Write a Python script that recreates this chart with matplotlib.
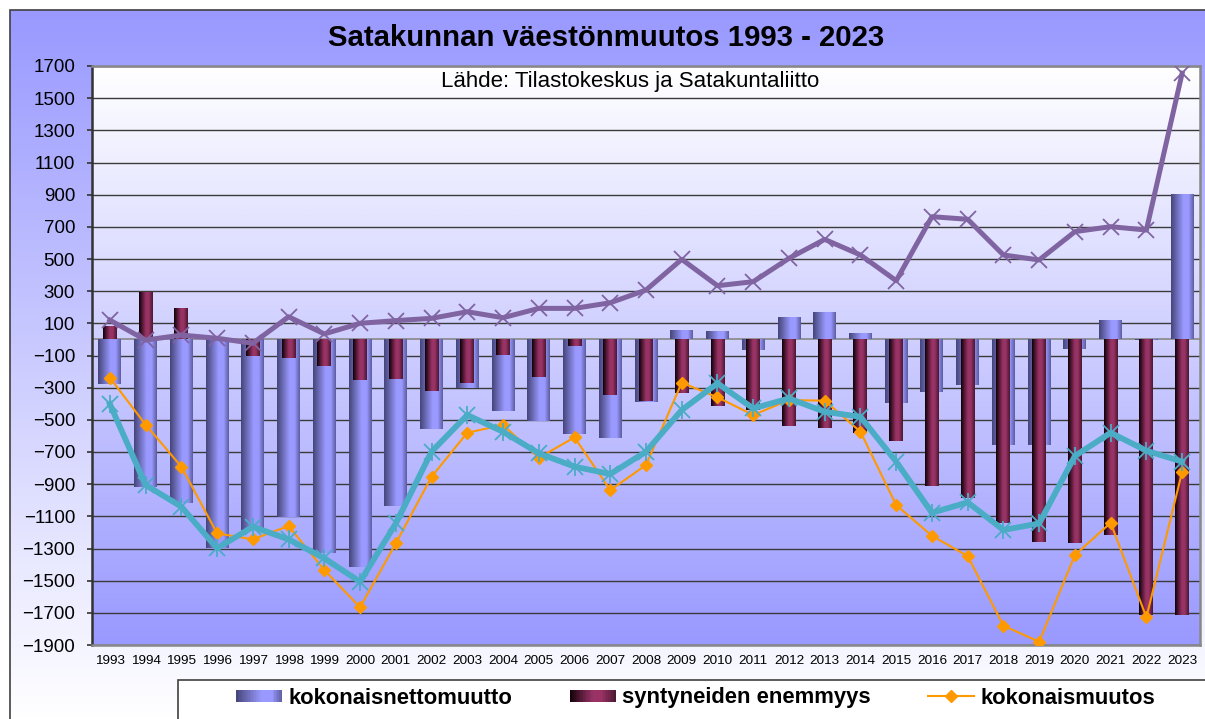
import numpy as np
import matplotlib
matplotlib.use("Agg")
import matplotlib.pyplot as plt
from matplotlib.colors import LinearSegmentedColormap
from matplotlib.patches import Rectangle
from matplotlib.lines import Line2D
from matplotlib.legend_handler import HandlerBase

plt.rcParams['font.family'] = ['Liberation Sans', 'DejaVu Sans']

years = [str(y) for y in range(1993, 2024)]

# kokonaisnettomuutto (blue bars)
netto = [-280, -915, -1020, -1295, -1185, -1105, -1325, -1415, -1035, -560,
         -300, -445, -510, -590, -610, -390, 58, 52, -65, 137,
         170, 38, -395, -325, -285, -655, -655, -60, 120, -5, 905]
# syntyneiden enemmyys (maroon bars)
synt = [85, 297, 193, 15, -105, -115, -163, -252, -246, -321,
        -273, -97, -232, -39, -346, -383, -331, -414, -436, -537,
        -549, -584, -630, -910, -988, -1144, -1258, -1268, -1216, -1714, -1714]
# kokonaismuutos (orange line)
kokonais = [-238, -530, -791, -1206, -1243, -1160, -1434, -1666, -1268, -854,
            -580, -532, -736, -609, -937, -781, -269, -360, -470, -377,
            -381, -574, -1030, -1221, -1347, -1780, -1880, -1341, -1140, -1728, -823]
# teal line (legend entry cut off in the original)
teal = [-402, -905, -1040, -1299, -1165, -1243, -1361, -1507, -1144, -698,
        -470, -574, -708, -791, -837, -698, -439, -273, -429, -367,
        -450, -481, -760, -1078, -1013, -1185, -1144, -725, -580, -692, -760]
# purple line (legend entry cut off in the original)
purple = [120, -4, 27, 7, -24, 141, 34, 100, 117, 131,
          172, 135, 193, 193, 228, 307, 498, 334, 359, 504,
          622, 525, 365, 763, 747, 525, 494, 670, 701, 680, 1655]

W, H = 1205, 719
fig = plt.figure(figsize=(W / 100, H / 100), dpi=100)
fig.patch.set_facecolor('white')

# chart area background (periwinkle at top -> white at bottom)
bg = fig.add_axes([0, 0, 1, 1])
bg.set_axis_off()
bg_cmap = LinearSegmentedColormap.from_list('bg', ['#ffffff', '#9999ff'])
grad_v = np.linspace(0, 1, 256).reshape(-1, 1)
x0 = 10 / W
y1 = 1 - 10 / H
bg.imshow(grad_v, extent=[x0, 1.0, 0, y1], origin='lower', aspect='auto', cmap=bg_cmap)
bg.add_patch(Rectangle((x0, -0.05), 1.0, y1 + 0.05, fill=False, edgecolor='#404040', lw=1.2))
bg.set_xlim(0, 1)
bg.set_ylim(0, 1)

# plot area
ax = fig.add_axes([92 / W, 1 - 645 / H, (1200 - 92) / W, (645 - 66) / H])
plot_cmap = LinearSegmentedColormap.from_list('pa', ['#9999ff', '#ffffff'])
ax.imshow(grad_v, extent=[0, 1, 0, 1], origin='lower', transform=ax.transAxes,
          aspect='auto', cmap=plot_cmap, zorder=0)

x = np.arange(len(years))
blue_cmap = LinearSegmentedColormap.from_list(
    'bl', [(0, '#45457a'), (0.55, '#9999ff'), (0.78, '#9999ff'), (1, '#5c5ca0')])
mar_cmap = LinearSegmentedColormap.from_list(
    'mr', [(0, '#100008'), (0.5, '#993366'), (0.7, '#993366'), (1, '#4a1830')])
grad_h = np.linspace(0, 1, 64).reshape(1, -1)


def gradient_bars(bars, cmap, z):
    for b in bars:
        bx, by = b.get_x(), b.get_y()
        bw, bh = b.get_width(), b.get_height()
        im = ax.imshow(grad_h, extent=[bx, bx + bw, by, by + bh], aspect='auto',
                       cmap=cmap, zorder=z, interpolation='bilinear')
        im.set_clip_path(b)


b1 = ax.bar(x, netto, width=0.64, color='#9999ff', edgecolor='none', zorder=2)
gradient_bars(b1, blue_cmap, 2.1)
b2 = ax.bar(x, synt, width=0.39, color='#993366', edgecolor='none', zorder=3)
gradient_bars(b2, mar_cmap, 3.1)

ax.axhline(0, color='#888888', lw=1.2, zorder=1.5)

ax.plot(x, kokonais, color='#ff9900', lw=1.5, marker='D', ms=6, mec='#ff9900', zorder=4)
ax.plot(x, teal, color='#4bacc6', lw=4.2, zorder=5)
ax.plot(x, teal, ls='none', marker='x', ms=11, mew=1.3, color='#4bacc6', zorder=5)
ax.plot(x, teal, ls='none', marker='|', ms=13, mew=1.3, color='#4bacc6', zorder=5)
ax.plot(x, purple, color='#8064a2', lw=3.6, marker='x', ms=12, mew=1.3, zorder=6)

ax.set_xlim(-0.5, len(years) - 0.5)
ax.set_ylim(-1900, 1700)
ax.set_yticks(np.arange(-1900, 1701, 200))
ax.set_xticks(x)
ax.set_xticklabels(years, fontsize=9.7)
ax.tick_params(axis='x', length=0, pad=7)
ax.tick_params(axis='y', labelsize=13.5, length=3.6, width=1.2, color='#333333', pad=8.5)
ax.set_axisbelow(True)
ax.yaxis.grid(True, color='#3a3a3a', lw=1.0)
for s in ['top', 'right', 'bottom']:
    ax.spines[s].set_color('#888888')
    ax.spines[s].set_linewidth(1.8)
ax.spines['left'].set_color('#333333')
ax.spines['left'].set_linewidth(1.8)

fig.text(606 / W, 1 - 38 / H, 'Satakunnan väestönmuutos 1993 - 2023',
         ha='center', va='center', fontsize=21.2, fontweight='bold')
fig.text(630 / W, 1 - 81 / H, 'Lähde: Tilastokeskus ja Satakuntaliitto',
         ha='center', va='center', fontsize=16)


# legend
class GradHandler(HandlerBase):
    def __init__(self, cmap):
        super().__init__()
        self.cmap = cmap

    def create_artists(self, legend, orig_handle, xdescent, ydescent, width,
                       height, fontsize, trans):
        n = 30
        arts = []
        for i in range(n):
            r = Rectangle((-xdescent + width * i / n, -ydescent + height * 0.1),
                          width / n * 1.1, height * 0.8,
                          facecolor=self.cmap((i + 0.5) / n), edgecolor='none',
                          transform=trans)
            arts.append(r)
        return arts


bg.add_patch(Rectangle((178 / W, -0.05), 1.0, (719 - 680) / H + 0.05,
                       facecolor='white', edgecolor='#404040', lw=1.2, zorder=5))
h1 = Rectangle((0, 0), 1, 1)
h2 = Rectangle((0, 0), 1, 1)
h3 = Line2D([], [], color='#ff9900', lw=1.5, marker='D', ms=6)
leg = fig.legend([h1, h2, h3], ['kokonaisnettomuutto', 'syntyneiden enemmyys', 'kokonaismuutos'],
                 handler_map={h1: GradHandler(blue_cmap), h2: GradHandler(mar_cmap)},
                 loc='center left', bbox_to_anchor=(236 / W, 1 - 698 / H), ncol=3,
                 frameon=False, borderpad=0, borderaxespad=0,
                 prop={'weight': 'bold', 'size': 15.8}, handlelength=2.1,
                 handletextpad=0.3, columnspacing=2.6)
leg.set_zorder(10)

fig.savefig('out.png', dpi=100)
